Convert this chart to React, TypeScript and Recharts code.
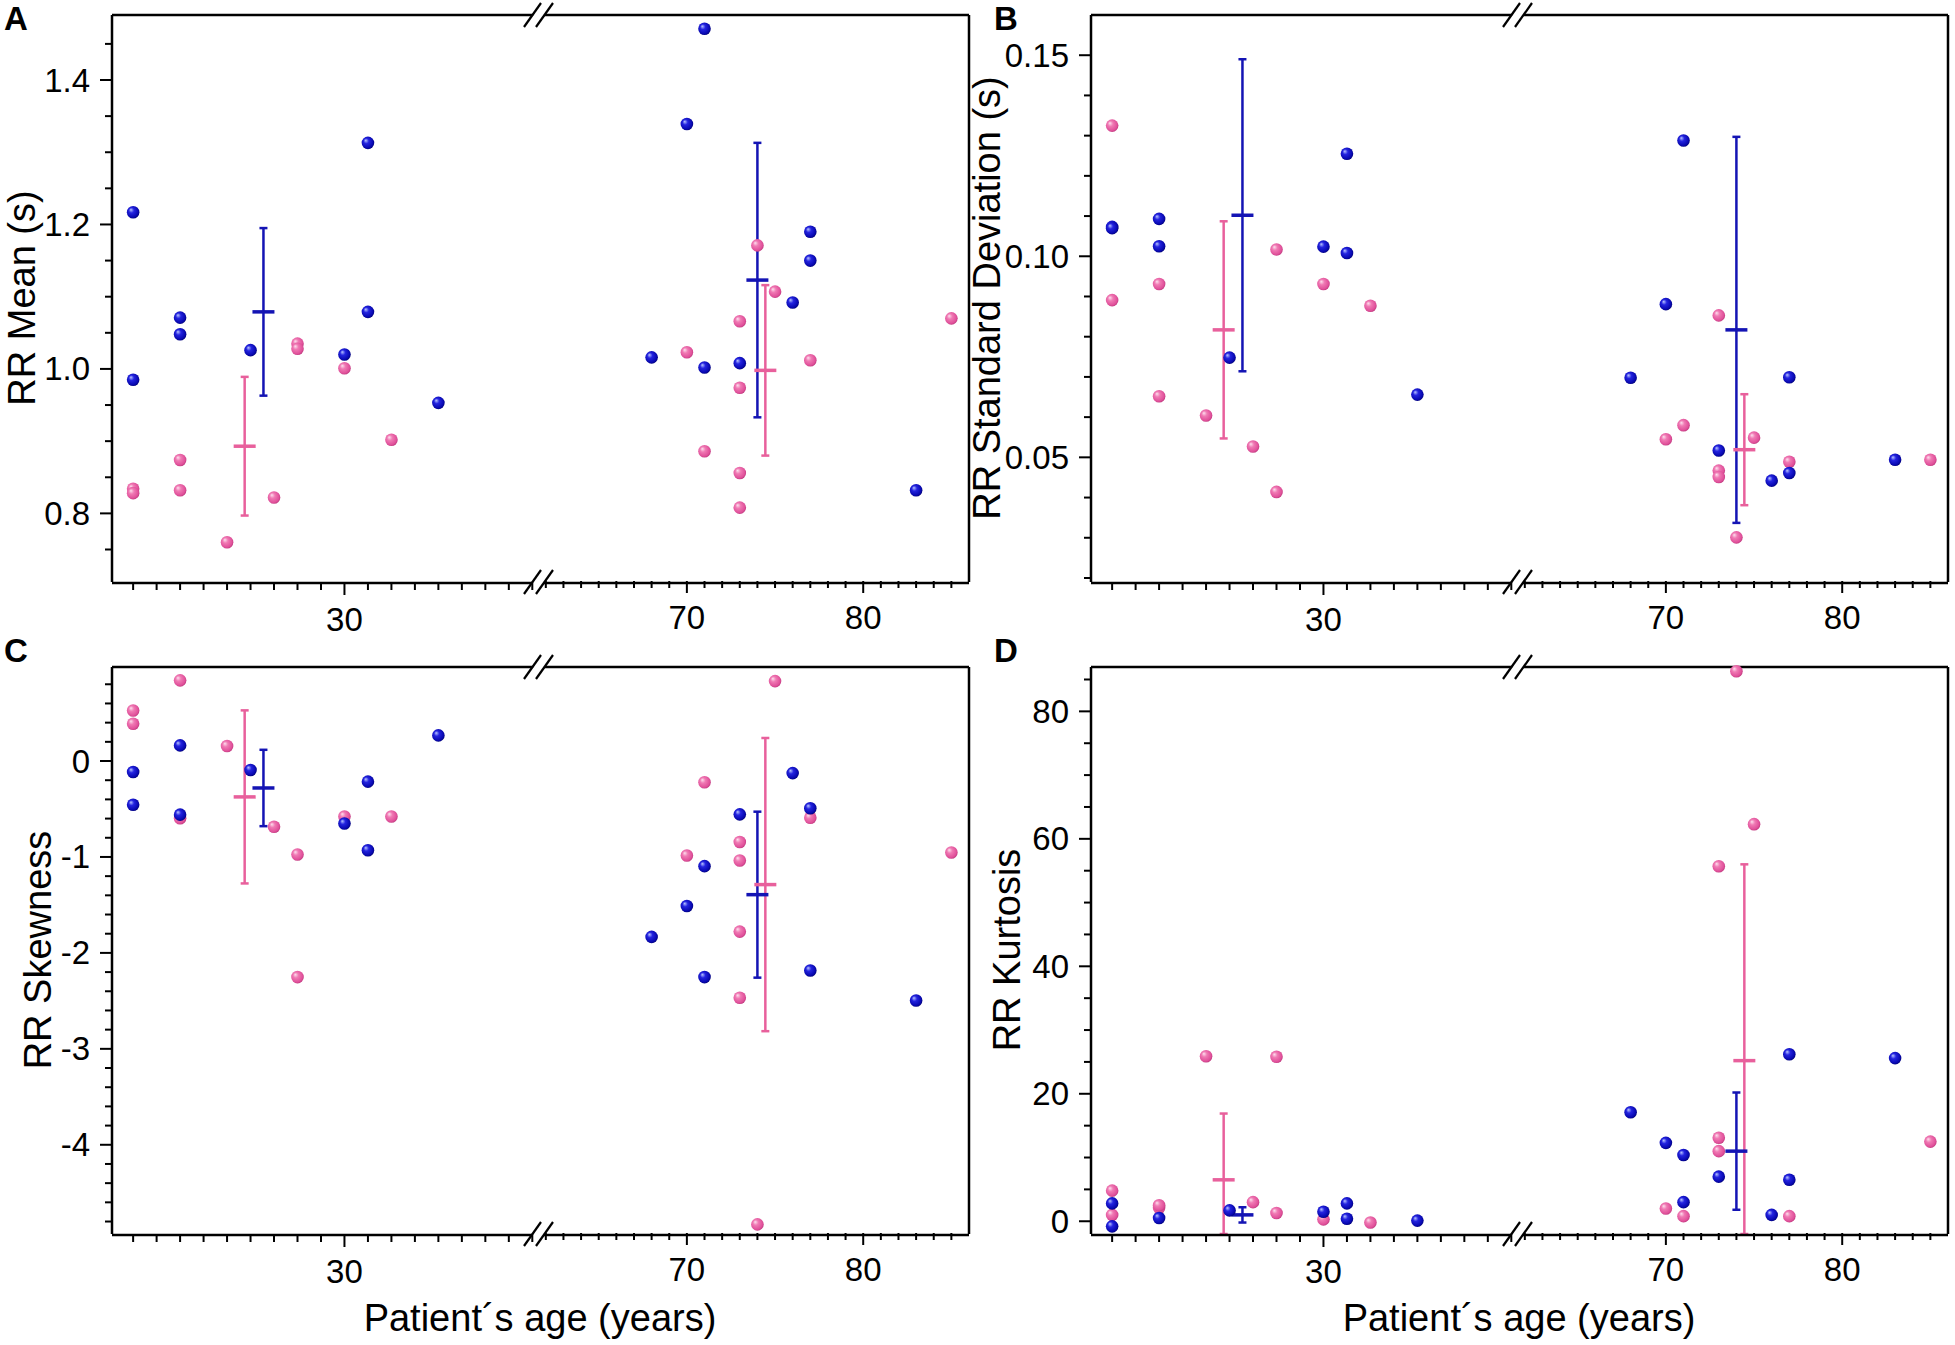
import React from "react";
import { ScatterChart, Scatter, XAxis, YAxis, ErrorBar, ReferenceDot } from "recharts";

type Pt = [number, number];
type Summary = [number, number, number]; // age, mean, sd

// A: RR mean (s)
const rrMeanBlue: Pt[] = [
  [21, 1.217], [21, 0.985], [23, 1.071], [23, 1.048], [26, 1.026], [30, 1.02], [31, 1.313], [31, 1.079], [34, 0.953],
  [68, 1.016], [70, 1.339], [71, 1.471], [71, 1.002], [73, 1.008], [76, 1.092], [77, 1.19], [77, 1.15], [83, 0.832],
];
const rrMeanPink: Pt[] = [
  [21, 0.834], [21, 0.828], [23, 0.874], [23, 0.832], [25, 0.76], [27, 0.822], [28, 1.035], [28, 1.028], [30, 1.001], [32, 0.902],
  [70, 1.023], [71, 0.886], [73, 1.066], [73, 0.974], [73, 0.856], [73, 0.808], [74, 1.171], [75, 1.107], [77, 1.012], [85, 1.07],
];
const rrMeanBlueSummary: Summary[] = [[26.55, 1.079, 0.116], [74.0, 1.123, 0.19]];
const rrMeanPinkSummary: Summary[] = [[25.75, 0.893, 0.096], [74.45, 0.998, 0.118]];

// B: RR standard deviation (s)
const rrSdBlue: Pt[] = [
  [21, 0.1073], [21, 0.107], [23, 0.1093], [23, 0.1025], [26, 0.0748], [30, 0.1024], [31, 0.1255], [31, 0.1008], [34, 0.0656],
  [68, 0.0698], [70, 0.0881], [71, 0.1288], [73, 0.0517], [76, 0.0442], [77, 0.0699], [77, 0.0461], [83, 0.0494],
];
const rrSdPink: Pt[] = [
  [21, 0.1325], [21, 0.0891], [23, 0.0931], [23, 0.0652], [25, 0.0604], [27, 0.0527], [28, 0.1017], [28, 0.0414], [30, 0.0931], [32, 0.0877],
  [70, 0.0545], [71, 0.058], [73, 0.0853], [73, 0.0467], [73, 0.0451], [74, 0.0301], [75, 0.0549], [77, 0.0489], [85, 0.0494],
];
const rrSdBlueSummary: Summary[] = [[26.55, 0.1102, 0.0388], [74.0, 0.0817, 0.048]];
const rrSdPinkSummary: Summary[] = [[25.75, 0.0817, 0.027], [74.45, 0.0519, 0.0138]];

// C: RR skewness
const rrSkewBlue: Pt[] = [
  [21, -0.115], [21, -0.456], [23, 0.163], [23, -0.559], [26, -0.093], [30, -0.652], [31, -0.215], [31, -0.93], [34, 0.267],
  [68, -1.833], [70, -1.511], [71, -1.096], [71, -2.252], [73, -0.556], [76, -0.126], [77, -0.492], [77, -2.183], [83, -2.496],
];
const rrSkewPink: Pt[] = [
  [21, 0.526], [21, 0.389], [23, 0.841], [23, -0.596], [25, 0.156], [27, -0.685], [28, -0.974], [28, -2.252], [30, -0.578], [32, -0.578],
  [70, -0.985], [71, -0.222], [73, -0.844], [73, -1.037], [73, -1.778], [73, -2.467], [74, -4.83], [75, 0.833], [77, -0.592], [85, -0.953],
];
const rrSkewBlueSummary: Summary[] = [[26.55, -0.281, 0.398], [74.0, -1.393, 0.865]];
const rrSkewPinkSummary: Summary[] = [[25.75, -0.374, 0.902], [74.45, -1.288, 1.528]];

// D: RR kurtosis
const rrKurtBlue: Pt[] = [
  [21, 2.8], [21, -0.8], [23, 0.5], [26, 1.7], [30, 1.5], [31, 2.8], [31, 0.4], [34, 0.1],
  [68, 17.1], [70, 12.3], [71, 10.4], [71, 3.0], [73, 7.0], [76, 1.0], [77, 26.2], [77, 6.5], [83, 25.6],
];
const rrKurtPink: Pt[] = [
  [21, 4.8], [21, 1.0], [23, 2.1], [23, 2.5], [25, 25.9], [27, 3.0], [28, 25.8], [28, 1.3], [30, 0.3], [32, -0.2],
  [70, 2.0], [71, 0.8], [73, 13.1], [73, 11.0], [73, 55.7], [74, 86.3], [75, 62.3], [77, 0.8], [85, 12.5],
];
const rrKurtBlueSummary: Summary[] = [[26.55, 1.0, 1.2], [74.0, 11.0, 9.2]];
const rrKurtPinkSummary: Summary[] = [[25.75, 6.5, 10.4], [74.45, 25.2, 30.8]];

// axis ticks
const ageTicksYoung = [21, 22, 23, 24, 25, 26, 27, 28, 29, 30, 31, 32, 33, 34, 35, 36, 37, 38];
const ageTicksOld = [62, 63, 64, 65, 66, 67, 68, 69, 70, 71, 72, 73, 74, 75, 76, 77, 78, 79, 80, 81, 82, 83, 84, 85];
const ageTickLabels = [30, 70, 80];

const meanTicks = [0.75, 0.8, 0.85, 0.9, 0.95, 1.0, 1.05, 1.1, 1.15, 1.2, 1.25, 1.3, 1.35, 1.4, 1.45];
const meanTickLabels = [0.8, 1.0, 1.2, 1.4];
const sdTicks = [0.02, 0.03, 0.04, 0.05, 0.06, 0.07, 0.08, 0.09, 0.1, 0.11, 0.12, 0.13, 0.14, 0.15];
const sdTickLabels = [0.05, 0.1, 0.15];
const skewTicks = [
  -4.8, -4.6, -4.4, -4.2, -4, -3.8, -3.6, -3.4, -3.2, -3, -2.8, -2.6, -2.4, -2.2, -2, -1.8, -1.6, -1.4, -1.2,
  -1, -0.8, -0.6, -0.4, -0.2, 0, 0.2, 0.4, 0.6, 0.8,
];
const skewTickLabels = [-4, -3, -2, -1, 0];
const kurtTicks = [0, 5, 10, 15, 20, 25, 30, 35, 40, 45, 50, 55, 60, 65, 70, 75, 80, 85];
const kurtTickLabels = [0, 20, 40, 60, 80];

const FONT = "'Liberation Sans', Arial, Helvetica, sans-serif";
const BLUE_BAR = "#1414b4";
const PINK_BAR = "#e8609c";
const AXIS_LINE = { stroke: "#000", strokeWidth: 2.5 };

const CHART_W = 980;
const CHART_H = 652;
const PLOT_LEFT = 112;
const PLOT_TOP = 15;
const PLOT_W = 857;
const PLOT_H = 567;
const SEG_YOUNG = 425;
const SEG_OLD = PLOT_W - SEG_YOUNG;
const YOUNG_DOMAIN: [number, number] = [20.1, 38.2];
const OLD_DOMAIN: [number, number] = [61.5, 86];

const near = (list: number[], v: number) => list.some((l) => Math.abs(l - v) < 1e-9);

// recharts skips axes of zero size, so every axis gets 1px and the margins absorb it
function AgeTick(props: any) {
  const { x, payload, shift = 0 } = props;
  const y = props.y + shift;
  const major = near(ageTickLabels, payload.value);
  return (
    <g>
      <line x1={x} x2={x} y1={y} y2={y + (major ? 12 : 7)} stroke="#000" strokeWidth={2} />
      {major && (
        <text x={x} y={y + 36} textAnchor="middle" dominantBaseline="central" fontSize={33} fontFamily={FONT} fill="#000">
          {payload.value}
        </text>
      )}
    </g>
  );
}

function BreakMark(props: any) {
  const { cx, cy } = props;
  if (cx == null || cy == null) return <g />;
  const c = cx + 3;
  return (
    <g>
      <polygon points={`${c - 13},${cy + 10} ${c},${cy - 10} ${c + 11},${cy - 10} ${c - 2},${cy + 10}`} fill="#fff" />
      <line x1={c - 16} y1={cy + 12} x2={c + 1} y2={cy - 12} stroke="#000" strokeWidth={2.2} />
      <line x1={c - 4} y1={cy + 12} x2={c + 13} y2={cy - 12} stroke="#000" strokeWidth={2.2} />
    </g>
  );
}

const blueBall = (p: any) => <circle cx={p.cx} cy={p.cy} r={6.3} fill="url(#ballBlue)" />;
const pinkBall = (p: any) => <circle cx={p.cx} cy={p.cy} r={6.3} fill="url(#ballPink)" />;
const blueDash = (p: any) => (
  <line x1={p.cx - 11} x2={p.cx + 11} y1={p.cy} y2={p.cy} stroke={BLUE_BAR} strokeWidth={3.5} />
);
const pinkDash = (p: any) => (
  <line x1={p.cx - 11} x2={p.cx + 11} y1={p.cy} y2={p.cy} stroke={PINK_BAR} strokeWidth={3.5} />
);

type PanelProps = {
  left: number;
  top: number;
  blue: Pt[];
  pink: Pt[];
  blueSummary: Summary[];
  pinkSummary: Summary[];
  domain: [number, number];
  ticks: number[];
  labels: number[];
  format: (v: number) => string;
};

function Panel({ left, top, blue, pink, blueSummary, pinkSummary, domain, ticks, labels, format }: PanelProps) {
  const rows = (pts: Pt[], young: boolean) =>
    pts.filter((p) => (p[0] < 50) === young).map(([age, value]) => ({ age, value }));
  const summary = (s: Summary[], young: boolean) =>
    s
      .filter((p) => (p[0] < 50) === young)
      .map(([age, mean, sd]) => ({
        age,
        value: mean,
        err: [Math.min(sd, mean - domain[0]), Math.min(sd, domain[1] - mean)],
      }));

  const YTick = (props: any) => {
    const { x, y, payload } = props;
    const major = near(labels, payload.value);
    return (
      <g>
        <line x1={x} x2={x - (major ? 12 : 7)} y1={y} y2={y} stroke="#000" strokeWidth={2} />
        {major && (
          <text x={x - 22} y={y} textAnchor="end" dominantBaseline="central" fontSize={33} fontFamily={FONT} fill="#000">
            {format(payload.value)}
          </text>
        )}
      </g>
    );
  };

  const side = (id: "young" | "old") => {
    const young = id === "young";
    return [
      <Scatter key={id + "bs"} xAxisId={id} yAxisId="value" data={summary(blueSummary, young)} shape={blueDash} isAnimationActive={false}>
        <ErrorBar dataKey="err" direction="y" width={4} stroke={BLUE_BAR} strokeWidth={2.5} isAnimationActive={false} />
      </Scatter>,
      <Scatter key={id + "ps"} xAxisId={id} yAxisId="value" data={summary(pinkSummary, young)} shape={pinkDash} isAnimationActive={false}>
        <ErrorBar dataKey="err" direction="y" width={4} stroke={PINK_BAR} strokeWidth={2.5} isAnimationActive={false} />
      </Scatter>,
      <Scatter key={id + "p"} xAxisId={id} yAxisId="value" data={rows(pink, young)} shape={pinkBall} isAnimationActive={false} />,
      <Scatter key={id + "b"} xAxisId={id} yAxisId="value" data={rows(blue, young)} shape={blueBall} isAnimationActive={false} />,
    ];
  };

  return (
    <div style={{ position: "absolute", left, top }}>
      <ScatterChart
        width={CHART_W}
        height={CHART_H}
        margin={{
          top: PLOT_TOP - 1,
          right: CHART_W - PLOT_LEFT - PLOT_W - 1,
          bottom: CHART_H - PLOT_TOP - PLOT_H - 2,
          left: PLOT_LEFT - 1,
        }}
      >
        <XAxis
          xAxisId="young"
          type="number"
          dataKey="age"
          domain={YOUNG_DOMAIN}
          padding={{ left: 0, right: SEG_OLD }}
          ticks={ageTicksYoung}
          interval={0}
          tick={<AgeTick />}
          tickLine={false}
          tickSize={0}
          tickMargin={0}
          height={1}
          axisLine={AXIS_LINE}
        />
        <XAxis
          xAxisId="old"
          type="number"
          dataKey="age"
          domain={OLD_DOMAIN}
          padding={{ left: SEG_YOUNG, right: 0 }}
          ticks={ageTicksOld}
          interval={0}
          tick={<AgeTick shift={-1} />}
          tickLine={false}
          tickSize={0}
          tickMargin={0}
          height={1}
          axisLine={false}
        />
        <XAxis xAxisId="frameTop" orientation="top" type="number" domain={[0, 1]} tick={false} tickLine={false} height={1} axisLine={AXIS_LINE} />
        <YAxis
          yAxisId="value"
          type="number"
          dataKey="value"
          domain={domain}
          ticks={ticks}
          interval={0}
          tick={<YTick />}
          tickLine={false}
          tickSize={0}
          tickMargin={0}
          width={1}
          axisLine={AXIS_LINE}
        />
        <YAxis yAxisId="frameRight" orientation="right" type="number" domain={[0, 1]} tick={false} tickLine={false} width={1} axisLine={AXIS_LINE} />
        {side("young")}
        {side("old")}
        <ReferenceDot xAxisId="young" yAxisId="value" x={YOUNG_DOMAIN[1]} y={domain[0]} ifOverflow="visible" shape={BreakMark} />
        <ReferenceDot xAxisId="young" yAxisId="value" x={YOUNG_DOMAIN[1]} y={domain[1]} ifOverflow="visible" shape={BreakMark} />
      </ScatterChart>
    </div>
  );
}

const letterStyle: React.CSSProperties = {
  position: "absolute",
  fontFamily: FONT,
  fontWeight: "bold",
  fontSize: 33,
  lineHeight: "33px",
  color: "#000",
};

const yTitleStyle = (x: number, y: number): React.CSSProperties => ({
  position: "absolute",
  left: x,
  top: y,
  transform: "translate(-50%, -50%) rotate(-90deg)",
  fontFamily: FONT,
  fontSize: 38,
  lineHeight: "38px",
  whiteSpace: "nowrap",
  color: "#000",
});

const xTitleStyle = (x: number, y: number): React.CSSProperties => ({
  position: "absolute",
  left: x,
  top: y,
  transform: "translate(-50%, -50%)",
  fontFamily: FONT,
  fontSize: 38,
  lineHeight: "38px",
  whiteSpace: "nowrap",
  color: "#000",
});

export default function App() {
  const colX = [0, 979];
  const rowY = [0, 652];
  return (
    <div style={{ position: "absolute", left: 0, top: 0, width: 1955, height: 1345, background: "#fff", overflow: "hidden" }}>
      <svg width={0} height={0} style={{ position: "absolute" }}>
        <defs>
          <radialGradient id="ballBlue" cx="0.45" cy="0.45" r="0.6" fx="0.32" fy="0.3">
            <stop offset="0" stopColor="#b8c4ff" />
            <stop offset="0.35" stopColor="#2424e0" />
            <stop offset="0.8" stopColor="#0808b0" />
            <stop offset="1" stopColor="#00006a" />
          </radialGradient>
          <radialGradient id="ballPink" cx="0.45" cy="0.45" r="0.6" fx="0.32" fy="0.3">
            <stop offset="0" stopColor="#fde0ee" />
            <stop offset="0.35" stopColor="#f07ab4" />
            <stop offset="0.8" stopColor="#e0509a" />
            <stop offset="1" stopColor="#b83478" />
          </radialGradient>
        </defs>
      </svg>

      <Panel
        left={colX[0]}
        top={rowY[0]}
        blue={rrMeanBlue}
        pink={rrMeanPink}
        blueSummary={rrMeanBlueSummary}
        pinkSummary={rrMeanPinkSummary}
        domain={[0.705, 1.49]}
        ticks={meanTicks}
        labels={meanTickLabels}
        format={(v) => v.toFixed(1)}
      />
      <Panel
        left={colX[1]}
        top={rowY[0]}
        blue={rrSdBlue}
        pink={rrSdPink}
        blueSummary={rrSdBlueSummary}
        pinkSummary={rrSdPinkSummary}
        domain={[0.019, 0.16]}
        ticks={sdTicks}
        labels={sdTickLabels}
        format={(v) => v.toFixed(2)}
      />
      <Panel
        left={colX[0]}
        top={rowY[1]}
        blue={rrSkewBlue}
        pink={rrSkewPink}
        blueSummary={rrSkewBlueSummary}
        pinkSummary={rrSkewPinkSummary}
        domain={[-4.93, 0.98]}
        ticks={skewTicks}
        labels={skewTickLabels}
        format={(v) => String(v)}
      />
      <Panel
        left={colX[1]}
        top={rowY[1]}
        blue={rrKurtBlue}
        pink={rrKurtPink}
        blueSummary={rrKurtBlueSummary}
        pinkSummary={rrKurtPinkSummary}
        domain={[-2, 86.96]}
        ticks={kurtTicks}
        labels={kurtTickLabels}
        format={(v) => String(v)}
      />

      <div style={{ ...letterStyle, left: 4, top: 2 }}>A</div>
      <div style={{ ...letterStyle, left: 994, top: 2 }}>B</div>
      <div style={{ ...letterStyle, left: 4, top: 634 }}>C</div>
      <div style={{ ...letterStyle, left: 994, top: 634 }}>D</div>

      <div style={yTitleStyle(22, 298)}>RR Mean (s)</div>
      <div style={yTitleStyle(987, 298)}>RR Standard Deviation (s)</div>
      <div style={yTitleStyle(38, 950)}>RR Skewness</div>
      <div style={yTitleStyle(1007, 950)}>RR Kurtosis</div>

      <div style={xTitleStyle(540, 1318)}>Patient´s age (years)</div>
      <div style={xTitleStyle(1519, 1318)}>Patient´s age (years)</div>
    </div>
  );
}
